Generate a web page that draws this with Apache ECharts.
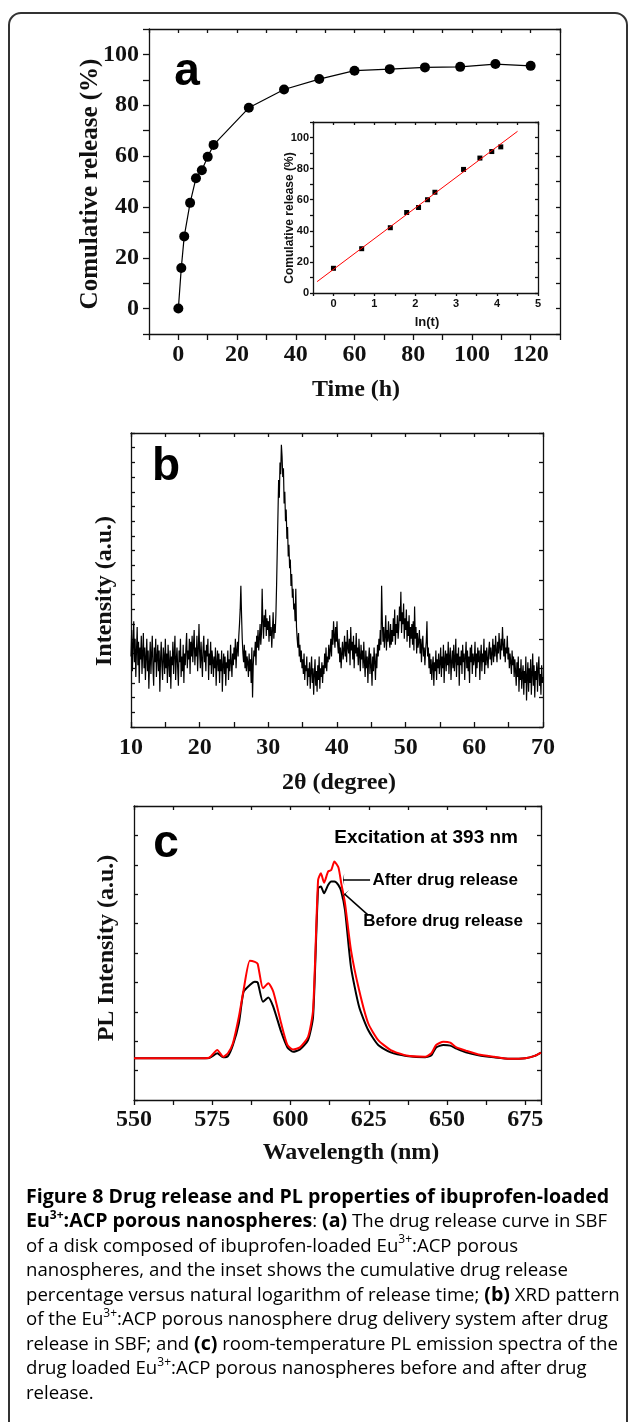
<!DOCTYPE html>
<html><head><meta charset="utf-8">
<script src="https://cdn.jsdelivr.net/npm/echarts@6/dist/echarts.min.js"></script>
<style>html,body{margin:0;padding:0;background:#fff}#c{width:629px;height:1422px}</style>
</head><body><div id="c"></div>
<script>
// ---- Panel a: cumulative release vs time ----
const timeH = [0, 1, 2, 4, 6, 8, 10, 12, 24, 36, 48, 60, 72, 84, 96, 108, 120];
const releasePct = [0, 16.0, 28.4, 41.6, 51.3, 54.4, 59.7, 64.4, 79.0, 86.2, 90.3, 93.6, 94.2, 94.9, 95.1, 96.2, 95.5];
// ---- Inset: release vs ln(t) ----
const insetLnT = [0, 0.69, 1.39, 1.79, 2.08, 2.30, 2.48, 3.18, 3.58, 3.87, 4.09];
const insetPct = [15.9, 28.5, 42.0, 51.8, 55.0, 60.0, 64.8, 79.5, 86.8, 91.0, 94.0];
const fitLnT = [-0.4, 4.5];
const fitPct = [7.3, 104.0];
// ---- Panel b: XRD pattern (2theta from 10 to 70, step 0.1; one row per degree) ----
const xrdStart = 10, xrdStep = 0.1;
const xrdIntensity = [
 24,33,19,28,36,22,30,17,26,34,
 21,29,15,27,23,31,18,25,32,20,
 27,16,24,30,19,26,13,22,29,18,
 25,31,20,14,27,22,30,17,24,28,
 19,26,12,23,29,21,16,27,24,18,
 30,20,25,15,28,22,17,26,13,24,
 21,29,18,25,31,16,23,27,20,14,
 26,22,30,17,24,19,28,15,25,21,
 27,32,20,26,23,30,18,29,24,31,
 22,28,33,21,27,24,31,19,26,35,
 25,20,29,23,17,27,31,22,26,19,
 28,24,30,16,25,21,29,18,26,23,
 17,24,20,27,14,22,26,19,25,15,
 23,19,26,12,21,25,18,24,14,22,
 20,26,16,23,19,28,22,17,25,21,
 27,23,30,20,26,29,24,31,35,40,
 48,38,30,25,22,28,20,26,19,24,
 22,17,25,19,23,15,27,10,21,26,
 24,29,21,31,27,33,26,30,35,28,
 32,47,36,30,38,34,40,31,37,33,
 36,29,38,31,34,27,33,39,30,35,
 32,38,48,60,72,84,78,90,86,96,
 92,85,88,76,80,70,74,64,68,58,
 62,54,57,48,52,44,47,40,42,36,
 47,34,30,27,32,24,28,22,26,20,
 23,18,25,16,21,19,24,14,20,17,
 22,13,19,24,15,20,11,18,23,14,
 19,12,21,16,24,13,20,17,22,15,
 21,18,25,20,27,19,24,22,28,23,
 26,30,24,33,28,36,31,27,34,29,
 36,28,25,30,22,27,20,25,29,23,
 26,31,24,29,22,33,27,25,30,21,
 34,26,29,23,31,20,28,25,32,24,
 27,21,30,24,19,28,23,26,20,29,
 22,17,26,20,24,15,23,27,18,25,
 21,14,24,19,27,22,16,25,20,28,
 24,30,26,33,28,48,36,29,34,27,
 31,38,26,33,29,36,30,27,35,28,
 33,29,37,31,40,28,35,32,38,30,
 34,41,36,46,32,39,35,42,30,37,
 33,40,29,36,31,38,27,34,30,35,
 28,36,26,41,30,34,25,32,27,29,
 33,25,30,22,28,31,24,27,21,26,
 29,36,24,27,20,25,18,23,16,21,
 24,14,22,19,26,16,23,20,25,18,
 22,27,17,24,20,28,15,23,26,19,
 25,21,29,18,24,27,16,22,26,20,
 28,19,23,30,17,25,21,27,14,24,
 21,26,18,28,22,25,16,24,29,20,
 26,19,24,15,27,22,28,18,25,21,
 23,29,17,25,20,27,22,26,16,24,
 28,19,25,22,30,18,26,21,27,23,
 20,26,29,23,27,21,25,30,22,28,
 24,31,26,22,29,25,32,27,23,30,
 26,34,28,24,30,22,27,25,31,23,
 27,20,25,22,18,26,21,24,17,23,
 19,14,22,17,24,12,20,16,23,13,
 18,21,11,19,15,24,9,17,22,12,
 20,15,23,11,18,25,14,21,10,19,
 16,22,12,20,24,14,18,11,21,15,
 17
];
// ---- Panel c: PL spectra ----
const plWavelength = [550,560,570,574,576.6,578.5,580,581.6,583.5,585,587,588.6,589.5,591.2,592.9,594.5,597,599,600.8,603,605.6,607.2,608.8,609.7,610.7,612,613,614,615.3,616.2,617.4,619.3,621.9,624.8,628,632,637,643,645,646.5,648.8,651,653,656,660,665,670,675,678,680];
const plAfter = [14.2,14.2,14.2,14.4,17.0,14.7,15.9,19.3,28.3,37.4,47.4,47.0,46.3,38.0,39.7,36.8,26.1,18.7,17.2,17.9,21.5,30.6,74.8,77.1,73.9,77.7,78.2,81.1,79.1,73.7,66.9,51.0,37.4,26.1,20.4,17.0,15.1,14.7,15.9,18.7,19.8,19.5,17.9,16.8,15.5,14.7,14.0,14.2,15.0,16.1];
const plBefore = [14.2,14.2,14.2,14.3,15.9,14.5,14.9,18.7,26.1,36.8,39.1,40.2,40.0,33.4,34.9,31.7,23.2,17.9,16.4,17.2,20.4,28.3,72.0,72.6,70.3,73.1,74.3,74.3,73.1,70.9,64.6,45.3,31.7,23.8,18.7,16.2,15.0,14.5,15.2,17.9,18.7,18.5,17.5,16.2,15.2,14.5,14.0,14.2,15.0,16.1];
// arrow annotations in data units [x0,y0,x1,y1] (arrow head at x0,y0)
const arrowAfter = [616.8, 75.0, 625.4, 75.0];
const arrowBefore = [617.2, 70.1, 624.8, 62.9];

const SERIF = '"Liberation Serif","Times New Roman",serif';
const SANS = '"Liberation Sans",Arial,sans-serif';
const CAP = '"Open Sans","Noto Sans",sans-serif';
const AX = {color:'#111', width:1.3};

function axis(o) {
  const a = {
    gridIndex:o.g, type:'value', position:o.pos, min:o.min, max:o.max, interval:o.iv,
    axisLine:{show:true, onZero:false, lineStyle:AX},
    axisTick:{show:o.tick !== false, inside:!!o.inside, length:o.tl || 5, lineStyle:AX},
    axisLabel:{show:!!o.fmt, margin:o.margin || 8, fontFamily:o.ff || SERIF, fontWeight:'bold', fontSize:o.fs || 24, color:'#111', formatter:o.fmt},
    splitLine:{show:false}
  };
  if (!o.fmt) a.axisLabel = {show:false};
  return a;
}
const every = (k) => (v) => (Math.abs(v % k) < 1e-9 ? String(v) : '');
const ints = (v) => (Number.isInteger(v) ? String(v) : '');

const chart = echarts.init(document.getElementById('c'), null, {renderer:'canvas'});
const option = {
  animation:false,
  backgroundColor:'#fff',
  grid:[
    {left:149, top:29, width:411, height:305},
    {left:313, top:122, width:225, height:171},
    {left:131, top:433, width:412, height:294},
    {left:134, top:806, width:407, height:294}
  ],
  xAxis:[
    axis({g:0,pos:'bottom',min:-10,max:130,iv:10,tl:6,fmt:every(20),margin:9}),
    axis({g:0,pos:'top',min:-10,max:130,iv:10,inside:true,tl:4}),
    axis({g:1,pos:'bottom',min:-0.5,max:5,iv:0.5,tl:3,fmt:ints,ff:SANS,fs:11,margin:5}),
    axis({g:1,pos:'top',min:-0.5,max:5,iv:0.5,inside:true,tl:3}),
    axis({g:2,pos:'bottom',min:10,max:70,iv:5,inside:true,tl:5,fmt:every(10),margin:9}),
    axis({g:2,pos:'top',min:10,max:70,iv:5,inside:true,tl:4}),
    axis({g:3,pos:'bottom',min:550,max:680,iv:12.5,tl:5,fmt:every(25),margin:8}),
    axis({g:3,pos:'top',min:550,max:680,iv:12.5,inside:true,tl:4})
  ],
  yAxis:[
    axis({g:0,pos:'left',min:-10,max:110,iv:10,tl:6,fmt:every(20),margin:10}),
    axis({g:0,pos:'right',min:-10,max:110,iv:10,inside:true,tl:4}),
    axis({g:1,pos:'left',min:0,max:110,iv:10,tl:3,fmt:every(20),ff:SANS,fs:11,margin:4}),
    axis({g:1,pos:'right',min:0,max:110,iv:10,inside:true,tl:3}),
    axis({g:2,pos:'left',min:0,max:100,iv:5,inside:true,tl:4}),
    axis({g:2,pos:'right',min:0,max:100,iv:10,inside:true,tl:4}),
    axis({g:3,pos:'left',min:0,max:100,iv:10,inside:true,tl:4}),
    axis({g:3,pos:'right',min:0,max:100,iv:10,inside:true,tl:4})
  ],
  series:[
    {type:'line', xAxisIndex:0, yAxisIndex:0, data:timeH.map((t,i)=>[t, releasePct[i]]),
     symbol:'circle', symbolSize:10, itemStyle:{color:'#000'}, lineStyle:{color:'#000', width:1.2}, silent:true},
    {type:'line', xAxisIndex:2, yAxisIndex:2, data:fitLnT.map((x,i)=>[x, fitPct[i]]),
     symbol:'none', lineStyle:{color:'#f00', width:1}, silent:true},
    {type:'scatter', xAxisIndex:2, yAxisIndex:2, data:insetLnT.map((x,i)=>[x, insetPct[i]]),
     symbol:'rect', symbolSize:5, itemStyle:{color:'#000', opacity:1}, silent:true},
    {type:'line', xAxisIndex:4, yAxisIndex:4, data:xrdIntensity.map((v,i)=>[+(xrdStart + i*xrdStep).toFixed(1), v]),
     symbol:'none', lineStyle:{color:'#000', width:1.2}, silent:true, sampling:null},
    {type:'line', xAxisIndex:6, yAxisIndex:6, data:plWavelength.map((w,i)=>[w, plBefore[i]]),
     symbol:'none', smooth:0.2, lineStyle:{color:'#000', width:2}, silent:true,
     markLine:{silent:true, symbol:['arrow','none'], symbolSize:[9,1], label:{show:false},
       lineStyle:{color:'#000', width:1.5, type:'solid'},
       data:[
         [{coord:[arrowAfter[0], arrowAfter[1]]},{coord:[arrowAfter[2], arrowAfter[3]]}],
         [{coord:[arrowBefore[0], arrowBefore[1]]},{coord:[arrowBefore[2], arrowBefore[3]]}]
       ]}},
    {type:'line', xAxisIndex:6, yAxisIndex:6, data:plWavelength.map((w,i)=>[w, plAfter[i]]),
     symbol:'none', smooth:0.2, lineStyle:{color:'#f00', width:2}, silent:true}
  ],
  graphic:[
    {type:'rect', silent:true, z:-10, shape:{x:9, y:13, width:618, height:1440, r:12}, style:{fill:'none', stroke:'#333', lineWidth:2}},
    // panel letters
    {type:'text', x:187, y:72, style:{text:'a', font:'bold 46px '+SANS, fill:'#000', align:'center', verticalAlign:'middle'}},
    {type:'text', x:166, y:467, style:{text:'b', font:'bold 46px '+SANS, fill:'#000', align:'center', verticalAlign:'middle'}},
    {type:'text', x:166, y:844, style:{text:'c', font:'bold 46px '+SANS, fill:'#000', align:'center', verticalAlign:'middle'}},
    // axis titles
    {type:'text', x:91, y:184, rotation:Math.PI/2, style:{text:'Comulative release (%)', font:'bold 25px '+SERIF, fill:'#111', align:'center', verticalAlign:'middle'}},
    {type:'text', x:356, y:390, style:{text:'Time (h)', font:'bold 24px '+SERIF, fill:'#111', align:'center', verticalAlign:'middle'}},
    {type:'text', x:290, y:218, rotation:Math.PI/2, style:{text:'Comulative release (%)', font:'bold 12px '+SANS, fill:'#111', align:'center', verticalAlign:'middle'}},
    {type:'text', x:427, y:322, style:{text:'ln(t)', font:'bold 13px '+SANS, fill:'#111', align:'center', verticalAlign:'middle'}},
    {type:'text', x:105, y:591, rotation:Math.PI/2, style:{text:'Intensity (a.u.)', font:'bold 24px '+SERIF, fill:'#111', align:'center', verticalAlign:'middle'}},
    {type:'text', x:339, y:783, style:{text:'2θ (degree)', font:'bold 24px '+SERIF, fill:'#111', align:'center', verticalAlign:'middle'}},
    {type:'text', x:107, y:948, rotation:Math.PI/2, style:{text:'PL Intensity (a.u.)', font:'bold 24px '+SERIF, fill:'#111', align:'center', verticalAlign:'middle'}},
    {type:'text', x:351, y:1153, style:{text:'Wavelength (nm)', font:'bold 24px '+SERIF, fill:'#111', align:'center', verticalAlign:'middle'}},
    // panel c annotations
    {type:'text', x:518, y:838, style:{text:'Excitation at 393 nm', font:'bold 19px '+SANS, fill:'#000', align:'right', verticalAlign:'middle'}},
    {type:'text', x:518, y:880, style:{text:'After drug release', font:'bold 17px '+SANS, fill:'#000', align:'right', verticalAlign:'middle'}},
    {type:'text', x:523, y:921, style:{text:'Before drug release', font:'bold 17px '+SANS, fill:'#000', align:'right', verticalAlign:'middle'}},
    // caption
    {type:'text', x:26, y:1185, style:{
      text:[
        '{b|Figure 8 Drug release and PL properties of ibuprofen-loaded}',
        '{b|Eu}{sb|3+}{b|:ACP porous nanospheres}{n|: }{b|(a)}{n| The drug release curve in SBF}',
        '{n|of a disk composed of ibuprofen-loaded Eu}{s|3+}{n|:ACP porous}',
        '{n|nanospheres, and the inset shows the cumulative drug release}',
        '{n|percentage versus natural logarithm of release time; }{b|(b)}{n| XRD pattern}',
        '{n|of the Eu}{s|3+}{n|:ACP porous nanosphere drug delivery system after drug}',
        '{n|release in SBF; and }{b|(c)}{n| room-temperature PL emission spectra of the}',
        '{n|drug loaded Eu}{s|3+}{n|:ACP porous nanospheres before and after drug}',
        '{n|release.}'
      ].join('\n'),
      verticalAlign:'top', align:'left',
      rich:{
        n:{fontFamily:CAP, fontSize:18.6, color:'#3a3a3a', lineHeight:24.5},
        b:{fontFamily:CAP, fontSize:19.6, fontWeight:'bold', color:'#111', lineHeight:24.5},
        s:{fontFamily:CAP, fontSize:12, color:'#3a3a3a', lineHeight:15, verticalAlign:'top'},
        sb:{fontFamily:CAP, fontSize:12, fontWeight:'bold', color:'#111', lineHeight:15, verticalAlign:'top'}
      }
    }}
  ]
};
chart.setOption(option);
</script>
</body></html>
